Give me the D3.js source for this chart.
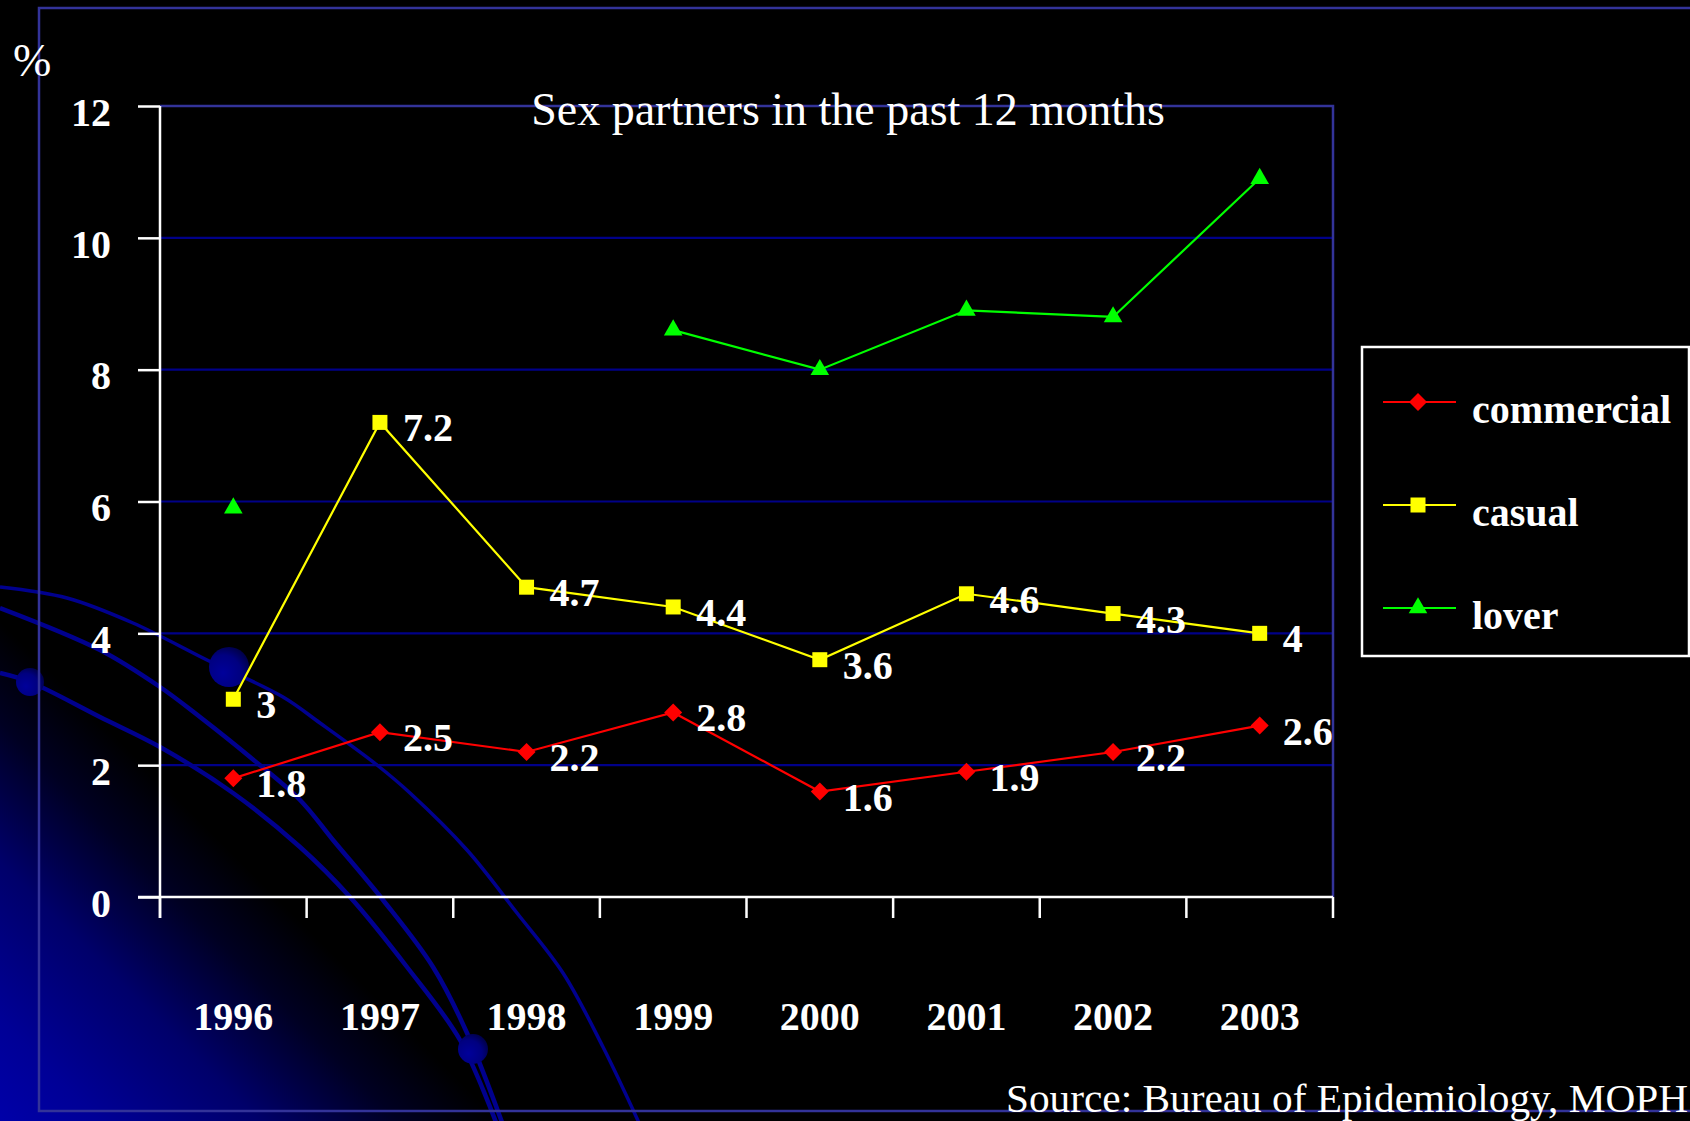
<!DOCTYPE html>
<html><head><meta charset="utf-8">
<script src="https://cdn.jsdelivr.net/npm/d3@7"></script>
<style>html,body{margin:0;padding:0;background:#000;overflow:hidden}</style>
</head><body>
<svg id="chart" width="1690" height="1121"></svg>
<script>
// ---- data ----
const years = ["1996","1997","1998","1999","2000","2001","2002","2003"];
const commercial = [1.8, 2.5, 2.2, 2.8, 1.6, 1.9, 2.2, 2.6];
const casual     = [3, 7.2, 4.7, 4.4, 3.6, 4.6, 4.3, 4];
const lover      = [5.9, null, null, 8.6, 8.0, 8.9, 8.8, 10.9];
const yTicks = [0, 2, 4, 6, 8, 10, 12];
const seriesNames = ["commercial", "casual", "lover"];
const titleText = "Sex partners in the past 12 months";
const sourceText = "Source: Bureau of Epidemiology, MOPH";
const unitText = "%";

// ---- layout / style ----
const W = 1690, H = 1121;
const plot = {left: 160, right: 1333, top: 106, bottom: 897};
const colors = {commercial: "#ff0000", casual: "#ffff00", lover: "#00ff00"};
const showLabels = {commercial: true, casual: true, lover: false};
const serif = "'Liberation Serif', 'Times New Roman', serif";

const svg = d3.select("#chart");
const defs = svg.append("defs");

// background gradient (bottom-left blue glow)
const bg = defs.append("linearGradient").attr("id", "bgGrad")
  .attr("gradientUnits", "userSpaceOnUse")
  .attr("x1", 0).attr("y1", H).attr("x2", 250).attr("y2", H - 250);
[[0, "#0000a8"], [0.2, "#000096"], [0.52, "#00006a"], [0.8, "#000022"], [1, "#000000"]]
  .forEach(([o, c]) => bg.append("stop").attr("offset", o).attr("stop-color", c));
const ball = defs.append("radialGradient").attr("id", "ballGrad")
  .attr("cx", "35%").attr("cy", "65%").attr("r", "75%");
[[0, "#00009a"], [0.6, "#000080"], [1, "#000040"]]
  .forEach(([o, c]) => ball.append("stop").attr("offset", o).attr("stop-color", c));

svg.append("rect").attr("width", W).attr("height", H).attr("fill", "#000");
svg.append("rect").attr("width", W).attr("height", H).attr("fill", "url(#bgGrad)");

// decorative curves
const decorCurves = [
  {w: 3.5, pts: [[0,587],[67,598],[133,623],[207,660],[283,697],[320,723],[377,765],[410,793],[467,850],[517,913],[563,973],[603,1047],[640,1125]]},
  {w: 4.5, pts: [[0,608],[100,650],[160,687],[200,717],[250,757],[300,800],[333,840],[383,900],[433,967],[467,1033],[503,1125]]},
  {w: 4.5, pts: [[0,673],[30,682],[100,717],[160,747],[233,793],[300,847],[350,897],[407,967],[460,1040],[497,1125]]}
];
const decorBalls = [[229,667,20],[30,682,14],[473,1049,15]];
const curveGen = d3.line().curve(d3.curveCatmullRom.alpha(0.5));
svg.append("g").selectAll("path").data(decorCurves).join("path")
  .attr("d", d => curveGen(d.pts)).attr("fill", "none")
  .attr("stroke", "#00008e").attr("stroke-width", d => d.w);
svg.append("g").selectAll("circle").data(decorBalls).join("circle")
  .attr("cx", d => d[0]).attr("cy", d => d[1]).attr("r", d => d[2])
  .attr("fill", "url(#ballGrad)");

// outer frame
svg.append("rect").attr("x", 39).attr("y", 8).attr("width", W).attr("height", 1103)
  .attr("fill", "none").attr("stroke", "#333399").attr("stroke-width", 2.5);

// scales
const x = d3.scaleBand().domain(years).range([plot.left, plot.right]).paddingInner(0).paddingOuter(0);
const y = d3.scaleLinear().domain([0, 12]).range([plot.bottom, plot.top]);

// gridlines
svg.append("g").selectAll("line").data(yTicks.filter(t => t > 0 && t < 12)).join("line")
  .attr("x1", plot.left).attr("x2", plot.right)
  .attr("y1", d => y(d)).attr("y2", d => y(d))
  .attr("stroke", "#000088").attr("stroke-width", 2.2);
// top & right border of plot
svg.append("path")
  .attr("d", `M${plot.left},${y(12)}H${plot.right}V${y(0)}`)
  .attr("fill", "none").attr("stroke", "#333399").attr("stroke-width", 2.5);

// y axis
const yAxis = d3.axisLeft(y).tickValues(yTicks).tickSize(22).tickPadding(27).tickFormat(d3.format("d"));
const gy = svg.append("g").attr("transform", `translate(${plot.left},0)`).call(yAxis);
gy.select(".domain").attr("stroke", "#fff").attr("stroke-width", 2.5)
  .attr("d", `M0,${plot.top}V${plot.bottom + 21}`);
gy.selectAll(".tick line").attr("stroke", "#fff").attr("stroke-width", 2.5);
gy.selectAll(".tick text").attr("fill", "#fff").attr("font-family", serif)
  .attr("font-weight", "bold").attr("font-size", 40).attr("dy", "0.48em");

// x axis
const xAxis = d3.axisBottom(x).tickSize(0).tickPadding(0);
const gx = svg.append("g").attr("transform", `translate(0,${plot.bottom})`).call(xAxis);
gx.select(".domain").attr("stroke", "#fff").attr("stroke-width", 2.5)
  .attr("d", `M${plot.left - 22},0H${plot.right}`);
gx.selectAll(".tick text").attr("fill", "#fff").attr("font-family", serif)
  .attr("font-weight", "bold").attr("font-size", 40).attr("y", 133).attr("dy", 0);
// tick marks at band boundaries
const bounds = years.map(yr => x(yr)).concat([x(years[years.length - 1]) + x.bandwidth()]);
gx.append("g").selectAll("line").data(bounds).join("line")
  .attr("x1", d => d).attr("x2", d => d).attr("y1", 0).attr("y2", 21)
  .attr("stroke", "#fff").attr("stroke-width", 2.5);

// series
const series = [
  {name: "commercial", values: commercial, symbol: "diamond"},
  {name: "casual", values: casual, symbol: "square"},
  {name: "lover", values: lover, symbol: "triangle"}
];
const cx = yr => x(yr) + x.bandwidth() / 2;
const symbolPath = (s) => {
  if (s === "diamond") return d3.symbol(d3.symbolSquare, 162)();
  if (s === "square") return d3.symbol(d3.symbolSquare, 225)();
  return d3.symbol(d3.symbolTriangle, 150)();
};
const symRot = s => s === "diamond" ? " rotate(45)" : "";
const lineGen = d3.line().defined(d => d.v != null).x(d => cx(d.yr)).y(d => y(d.v));

series.forEach(s => {
  const pts = years.map((yr, i) => ({yr, v: s.values[i]}));
  const g = svg.append("g");
  g.append("path").datum(pts).attr("d", lineGen).attr("fill", "none")
    .attr("stroke", colors[s.name]).attr("stroke-width", 2.2);
  g.selectAll("path.m").data(pts.filter(d => d.v != null)).join("path").attr("class", "m")
    .attr("d", symbolPath(s.symbol))
    .attr("transform", d => `translate(${cx(d.yr)},${y(d.v)})${symRot(s.symbol)}`)
    .attr("fill", colors[s.name]);
  if (showLabels[s.name]) {
    g.selectAll("text").data(pts.filter(d => d.v != null)).join("text")
      .attr("x", d => cx(d.yr) + 23).attr("y", d => y(d.v) + 19)
      .attr("fill", "#fff").attr("font-family", serif).attr("font-weight", "bold")
      .attr("font-size", 40).text(d => String(d.v));
  }
});

// title
svg.append("text").attr("x", 848).attr("y", 125).attr("text-anchor", "middle")
  .attr("fill", "#fff").attr("font-family", serif).attr("font-size", 46).text(titleText);
// unit
svg.append("text").attr("x", 13).attr("y", 76).attr("fill", "#fff")
  .attr("font-family", serif).attr("font-size", 46).text(unitText);
// source
svg.append("text").attr("x", 1006).attr("y", 1112).attr("fill", "#fff")
  .attr("font-family", serif).attr("font-size", 40)
  .attr("textLength", 682).attr("lengthAdjust", "spacingAndGlyphs").text(sourceText);

// legend
const lg = svg.append("g");
lg.append("rect").attr("x", 1362).attr("y", 347).attr("width", 327).attr("height", 309)
  .attr("fill", "#000").attr("stroke", "#fff").attr("stroke-width", 2.5);
const legendY = d3.scalePoint().domain(seriesNames).range([402, 608]);
series.forEach(s => {
  const ly = legendY(s.name);
  lg.append("line").attr("x1", 1383).attr("x2", 1456).attr("y1", ly).attr("y2", ly)
    .attr("stroke", colors[s.name]).attr("stroke-width", 2.2);
  lg.append("path").attr("d", symbolPath(s.symbol))
    .attr("transform", `translate(1418,${ly})${symRot(s.symbol)}`).attr("fill", colors[s.name]);
  lg.append("text").attr("x", 1472).attr("y", ly + 21).attr("fill", "#fff")
    .attr("font-family", serif).attr("font-weight", "bold").attr("font-size", 40).text(s.name);
});
</script>
</body></html>
